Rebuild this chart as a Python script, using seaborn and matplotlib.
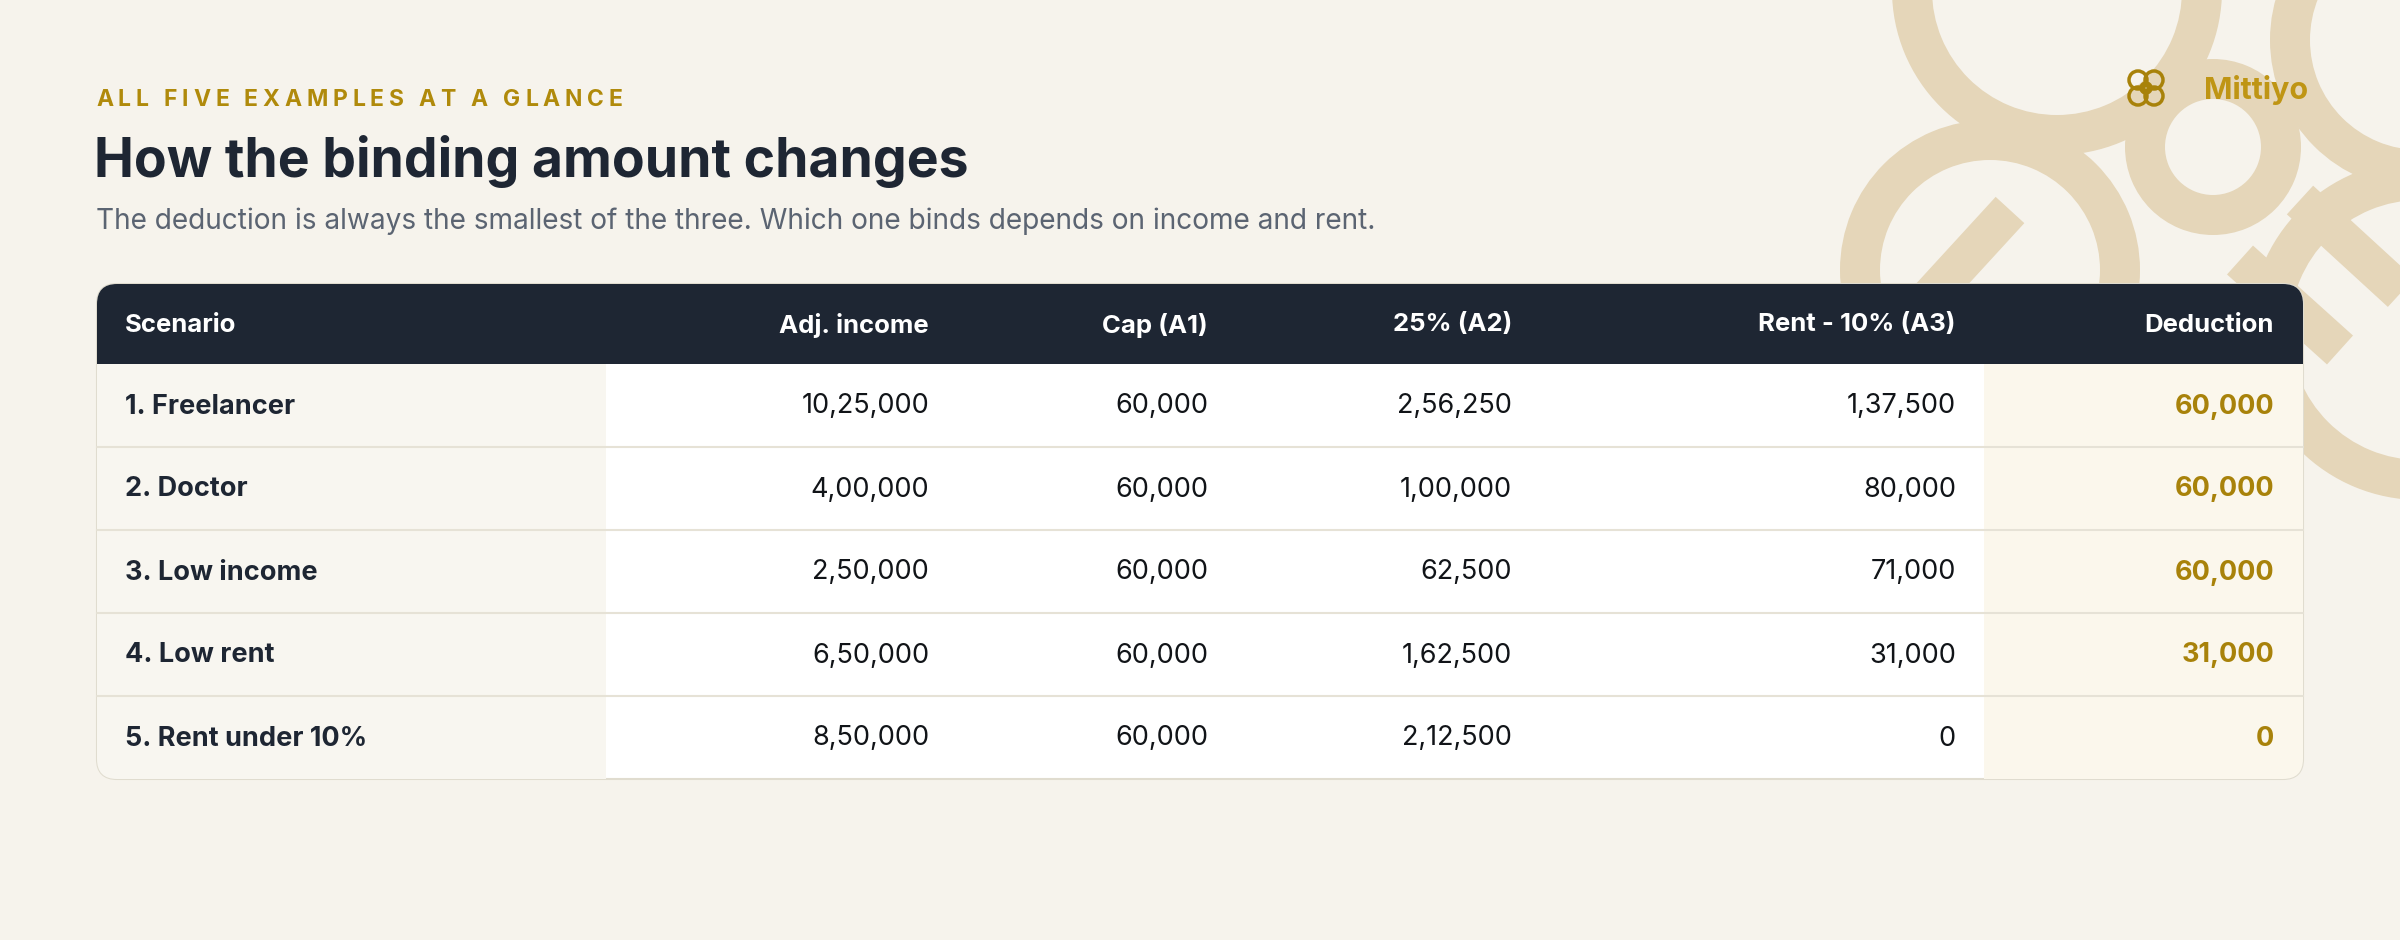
import numpy as np
import matplotlib.pyplot as plt
import seaborn as sns
from matplotlib.patches import FancyBboxPatch, Rectangle, Wedge, Circle
from matplotlib.textpath import TextPath
from matplotlib.font_manager import FontProperties

sns.set_theme(style="white")
plt.rcParams['font.family'] = ['Inter', 'DejaVu Sans']

columns = ["Scenario", "Adj. income", "Cap (A1)", "25% (A2)", "Rent - 10% (A3)", "Deduction"]
scenarios = ["1. Freelancer", "2. Doctor", "3. Low income", "4. Low rent", "5. Rent under 10%"]
adj_income = ["10,25,000", "4,00,000", "2,50,000", "6,50,000", "8,50,000"]
cap_a1 = ["60,000", "60,000", "60,000", "60,000", "60,000"]
pct_a2 = ["2,56,250", "1,00,000", "62,500", "1,62,500", "2,12,500"]
rent_a3 = ["1,37,500", "80,000", "71,000", "31,000", "0"]
deduction = ["60,000", "60,000", "60,000", "31,000", "0"]

BG = "#f6f3ec"
DARK = "#1e2633"
GOLD = "#a8820a"
TAN = "#e5d6b9"

fig = plt.figure(figsize=(24, 9.4), dpi=100, facecolor=BG)
ax = fig.add_axes([0, 0, 1, 1])
ax.set_xlim(0, 2400)
ax.set_ylim(940, 0)
ax.axis("off")

# decorative background rings (top right)
for (cx, cy, r, w) in [(2057, -10, 165, 40), (2213, 147, 88, 40), (2420, 330, 170, 40),
                       (1990, 270, 150, 40), (2420, 40, 150, 40)]:
    ax.add_patch(Wedge((cx, cy), r, 0, 360, width=w, color=TAN, lw=0, zorder=0))
for (x0, y0, x1, y1) in [(1900, 330, 2010, 210), (2240, 260, 2340, 350), (2300, 200, 2420, 310)]:
    ax.plot([x0, x1], [y0, y1], color=TAN, lw=28, solid_capstyle="butt", zorder=0)

# logo
for dx, dy in [(-8, -8), (8, -8), (-8, 8), (8, 8)]:
    ax.add_patch(Circle((2146 + dx, 88 + dy), 9, fill=False, ec=GOLD, lw=2.5, zorder=3))
ax.add_patch(Circle((2146, 88), 5, fill=False, ec=GOLD, lw=2.5, zorder=3))
ax.text(2204, 90, "Mittiyo", fontsize=22, fontweight="bold", color="#bf9514", va="center", ha="left")

# kicker with letter spacing
kicker = "ALL FIVE EXAMPLES AT A GLANCE"
fp = FontProperties(family="Inter", weight="bold", size=16.5)
base = TextPath((0, 0), "xx", prop=fp).get_extents().width
x = 96
for ch in kicker:
    ax.text(x, 100, ch, fontproperties=fp, color="#b08a0b", va="center", ha="left")
    adv = TextPath((0, 0), "x" + ch + "x", prop=fp).get_extents().width - base
    x += adv * 100 / 72 + 4.8

ax.text(94, 162, "How the binding amount changes", fontsize=38.5, fontweight="bold", color=DARK,
        va="center", ha="left")
ax.text(96, 221, "The deduction is always the smallest of the three. Which one binds depends on income and rent.",
        fontsize=20.2, color="#5b6472", va="center", ha="left")

# table geometry
left, right, top, bottom = 97, 2303, 284, 779
head_h = 80
row_h = (bottom - top - head_h) / len(scenarios)

table = FancyBboxPatch((left, top), right - left, bottom - top, boxstyle="round,pad=0,rounding_size=20",
                       fc="white", ec="#e0dccf", lw=1.5, zorder=1)
ax.add_patch(table)
clip = FancyBboxPatch((left, top), right - left, bottom - top, boxstyle="round,pad=0,rounding_size=20",
                      transform=ax.transData, fc="none", ec="none")
ax.add_patch(clip)

bands = [Rectangle((left, top), 606 - left, bottom - top, fc="#f8f6f0", lw=0, zorder=1.5),
         Rectangle((1984, top), right - 1984, bottom - top, fc="#fbf7ec", lw=0, zorder=1.5),
         Rectangle((left, top), right - left, head_h, fc=DARK, lw=0, zorder=2)]
for b in bands:
    ax.add_patch(b)
    b.set_clip_path(clip)

for i in range(1, len(scenarios)):
    y = top + head_h + i * row_h
    ax.plot([left, right], [y, y], color="#e6e2d6", lw=1.5, zorder=2.5)

text_x = [125, 929, 1208, 1512, 1956, 2274]
aligns = ["left"] + ["right"] * 5
for x, ha, name in zip(text_x, aligns, columns):
    ax.text(x, top + head_h / 2 + 1, name, fontsize=18.5, fontweight="bold", color="white",
            va="center", ha=ha, zorder=3)

rows = list(zip(scenarios, adj_income, cap_a1, pct_a2, rent_a3, deduction))
for r, vals in enumerate(rows):
    y = top + head_h + (r + 0.5) * row_h + 1
    for c, (x, ha, v) in enumerate(zip(text_x, aligns, vals)):
        if c == 0:
            kw = dict(fontweight="bold", color=DARK)
        elif c == 5:
            kw = dict(fontweight="bold", color=GOLD)
        else:
            kw = dict(color="#111418")
        ax.text(x, y, v, fontsize=19.5, va="center", ha=ha, zorder=3, **kw)

fig.savefig("out.png", dpi=100, facecolor=BG)
